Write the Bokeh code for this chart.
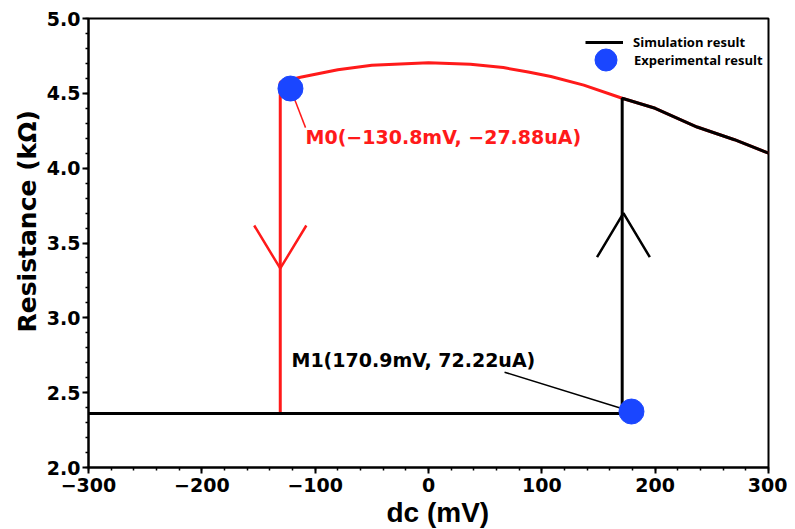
import math
from bokeh.plotting import figure
from bokeh.models import FixedTicker, Label, Legend, LegendItem, Title
from bokeh.embed import file_html
from bokeh.resources import INLINE

# ---------------- data ----------------
# red sweep (high-resistance branch, then switching down at M0)
red_x = [-300, -130.8, -130.8, -113, -80, -50, 0, 37, 66, 88, 108, 137, 170.9, 200, 237, 270, 300]
red_y = [2.36, 2.36, 4.574, 4.607, 4.658, 4.688, 4.705, 4.695, 4.672, 4.642, 4.612, 4.555, 4.467, 4.40, 4.275, 4.19, 4.10]
# black sweep (low-resistance branch, switching up at M1, then high branch)
black_x = [-300, 170.9, 170.9, 200, 237, 270, 300]
black_y = [2.36, 2.36, 4.467, 4.40, 4.275, 4.19, 4.10]
# experimental points
exp_x = [-121.8, 179.1]
exp_y = [4.532, 2.374]
# switching arrows: x, tip y, tail y, half width (mV)
arrow_x = [-130.8, 172.0]
arrow_tip = [3.33, 3.70]
arrow_tail = [3.617, 3.405]
arrow_half = [23.0, 23.3]
arrow_col = ["#ff1a1a", "black"]
# marker annotations
ann_text = ["M0(\u2212130.8mV, \u221227.88uA)", "M1(170.9mV, 72.22uA)"]
ann_x = [-108.5, -120.9]
ann_y = [4.205, 2.715]
ann_col = ["#ff1a1a", "black"]
lead_x0 = [-121.8, 179.1]
lead_y0 = [4.532, 2.374]
lead_x1 = [-108.5, 67.1]
lead_y1 = [4.271, 2.637]
# axes
x_ticks = [-300, -200, -100, 0, 100, 200, 300]
x_tick_labels = ["\u2212300", "\u2212200", "\u2212100", "0", "100", "200", "300"]
y_ticks = [2.0, 2.5, 3.0, 3.5, 4.0, 4.5, 5.0]
y_tick_labels = ["2.0", "2.5", "3.0", "3.5", "4.0", "4.5", "5.0"]
x_title = "dc (mV)"
y_title = "Resistance (k\u03a9)"
legend_labels = ["Simulation result", "Experimental result"]

RED = "#ff1a1a"
BLUE = "#1a46ff"

p = figure(width=787, height=529, x_range=(-300, 300), y_range=(2, 5),
           output_backend="svg", toolbar_location=None,
           min_border_left=88, min_border_right=19, min_border_top=18, min_border_bottom=62)
p.xgrid.visible = False
p.ygrid.visible = False
p.outline_line_color = "black"
p.outline_line_width = 2
p.outline_line_alpha = 1

red_r = p.line(red_x, red_y, line_color=RED, line_width=3)
black_r = p.line(black_x, black_y, line_color="black", line_width=3)

# leader lines
for i in range(2):
    p.line([lead_x0[i], lead_x1[i]], [lead_y0[i], lead_y1[i]], line_color=ann_col[i], line_width=1.5)

# arrows
for i in range(2):
    p.line([arrow_x[i] - arrow_half[i], arrow_x[i], arrow_x[i] + arrow_half[i]],
           [arrow_tail[i], arrow_tip[i], arrow_tail[i]],
           line_color=arrow_col[i], line_width=2.5)

exp_r = p.scatter(exp_x, exp_y, size=25, fill_color=BLUE, line_color=BLUE)

for i in range(2):
    p.add_layout(Label(x=ann_x[i], y=ann_y[i], text=ann_text[i], text_color=ann_col[i],
                       text_font="DejaVu Sans", text_font_style="bold", text_font_size="19px",
                       text_baseline="alphabetic", text_align="left"))

for ax, ticks, labels in ((p.xaxis[0], x_ticks, x_tick_labels), (p.yaxis[0], y_ticks, y_tick_labels)):
    ax.axis_line_width = 2
    ax.axis_line_color = "black"
    ax.major_tick_line_width = 2
    ax.minor_tick_line_width = 1.5
    ax.major_tick_in = 0
    ax.major_tick_out = 6
    ax.minor_tick_in = 0
    ax.minor_tick_out = 3
    ax.major_label_text_font = "DejaVu Sans"
    ax.major_label_text_font_style = "bold"
    ax.major_label_text_font_size = "19px"
    ax.major_label_text_color = "black"
    ax.major_label_overrides = {t: l for t, l in zip(ticks, labels)}

p.xaxis.ticker = FixedTicker(ticks=x_ticks, minor_ticks=[-300 + 20 * k for k in range(31)])
p.yaxis.ticker = FixedTicker(ticks=y_ticks, minor_ticks=[round(2 + 0.1 * k, 1) for k in range(31)])
p.xaxis.major_label_standoff = 4
p.yaxis.major_label_standoff = 2

# axis titles as side-panel titles (left-aligned with an offset along the axis)
p.add_layout(Title(text=y_title, align="left", offset=135, standoff=4, text_color="black",
                   text_font="DejaVu Sans", text_font_style="bold", text_font_size="25px"), "left")
p.add_layout(Title(text=x_title, align="left", offset=298, standoff=0, text_color="black",
                   text_font="Liberation Sans", text_font_style="bold", text_font_size="28px"), "below")

common = dict(padding=0, margin=0, border_line_color=None, background_fill_alpha=0,
              label_text_font="Open Sans", label_text_font_style="bold",
              label_text_font_size="13px", label_text_color="black")
leg1 = Legend(items=[LegendItem(label=legend_labels[0], renderers=[black_r])],
              location=(497, 415), glyph_width=38, glyph_height=20, label_standoff=10, **common)
leg2 = Legend(items=[LegendItem(label=legend_labels[1], renderers=[exp_r])],
              location=(490, 380), glyph_width=55, glyph_height=55, label_standoff=1, **common)
p.add_layout(leg1)
p.add_layout(leg2)

open("out.html", "w").write(file_html(p, INLINE))
